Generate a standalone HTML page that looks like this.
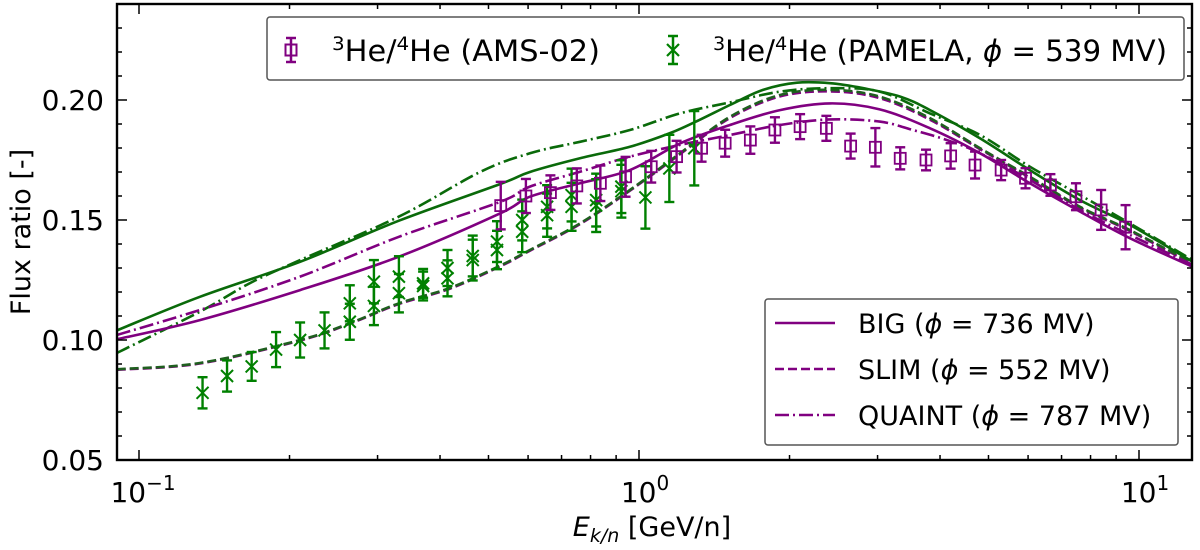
<!DOCTYPE html>
<html><head><meta charset="utf-8"><style>
html,body{margin:0;padding:0;background:#fff;}
svg{display:block;font-family:"DejaVu Sans","Liberation Sans",sans-serif;}
</style></head><body>
<svg id="chart" width="1200" height="550" viewBox="0 0 1200 550" xmlns="http://www.w3.org/2000/svg">
<rect x="0" y="0" width="1200" height="550" fill="#fff"/>
<defs><clipPath id="clip"><rect x="117" y="4" width="1075" height="456"/></clipPath></defs>
<g id="curves" clip-path="url(#clip)"></g>
<g id="points" clip-path="url(#clip)"></g>
<g id="axes"></g>
<text x="652" y="536" text-anchor="middle" font-size="27"><tspan font-style="italic">E</tspan><tspan font-style="italic" font-size="19" dy="6">k/n</tspan><tspan dy="-6"> [GeV/n]</tspan></text>
<text transform="translate(30,232) rotate(-90)" text-anchor="middle" font-size="27">Flux ratio [-]</text>
<g>
<rect x="267" y="17" width="917" height="63" fill="#fff" stroke="#555" stroke-width="1.5" rx="3"/>
<g>
<line x1="291" y1="38" x2="291" y2="62" stroke="#800080" stroke-width="2.5"/><line x1="286" y1="38" x2="296" y2="38" stroke="#800080" stroke-width="2.5"/><line x1="286" y1="62" x2="296" y2="62" stroke="#800080" stroke-width="2.5"/>
<rect x="285.5" y="44.5" width="11" height="11" fill="none" stroke="#800080" stroke-width="2"/>
<text x="332" y="61" font-size="29" textLength="268" lengthAdjust="spacingAndGlyphs"><tspan font-size="19" dy="-11">3</tspan><tspan dy="11">He/</tspan><tspan font-size="19" dy="-11">4</tspan><tspan dy="11">He  (AMS-02)</tspan></text></g>
<g>
<line x1="673" y1="36" x2="673" y2="64" stroke="#008000" stroke-width="2.5"/><line x1="668" y1="36" x2="678" y2="36" stroke="#008000" stroke-width="2.5"/><line x1="668" y1="64" x2="678" y2="64" stroke="#008000" stroke-width="2.5"/>
<path d="M667 44 L679 56 M679 44 L667 56" stroke="#008000" stroke-width="2.2"/>
<text x="713" y="61" font-size="29" textLength="454" lengthAdjust="spacingAndGlyphs"><tspan font-size="19" dy="-11">3</tspan><tspan dy="11">He/</tspan><tspan font-size="19" dy="-11">4</tspan><tspan dy="11">He  (PAMELA, </tspan><tspan font-style="italic">ϕ</tspan><tspan> = 539 MV)</tspan></text></g>
</g>
<g>
<rect x="765" y="299" width="413" height="146" fill="#fff" stroke="#555" stroke-width="1.5" rx="3"/>
<g><line x1="775" y1="323" x2="835" y2="323" stroke="#800080" stroke-width="2.5"/><text x="858" y="333" font-size="27">BIG (<tspan font-style="italic">ϕ</tspan> = 736 MV)</text></g>
<g><line x1="775" y1="369" x2="835" y2="369" stroke="#800080" stroke-width="2.5" stroke-dasharray="9,4"/><text x="858" y="379" font-size="27">SLIM (<tspan font-style="italic">ϕ</tspan> = 552 MV)</text></g>
<g><line x1="775" y1="415" x2="835" y2="415" stroke="#800080" stroke-width="2.5" stroke-dasharray="14,4,2,4"/><text x="858" y="425" font-size="27">QUAINT (<tspan font-style="italic">ϕ</tspan> = 787 MV)</text></g>
</g>
</svg>
<script>
// ---- data ----
const amsE = [0.529,0.594,0.665,0.751,0.837,0.940,1.058,1.189,1.334,1.487,1.67,1.87,2.10,2.37,2.65,2.97,3.33,3.75,4.2,4.7,5.3,5.93,6.65,7.48,8.4,9.4];
const amsV = [0.156,0.160,0.1614,0.1642,0.1653,0.168,0.1722,0.1764,0.1799,0.182,0.1833,0.1875,0.1889,0.1882,0.1808,0.1803,0.1757,0.175,0.1767,0.1729,0.1708,0.1674,0.1646,0.1597,0.1542,0.147];
const amsErr = [0.0099,0.0071,0.0072,0.0073,0.0074,0.0083,0.0066,0.0066,0.0056,0.0056,0.0057,0.0053,0.0052,0.0052,0.0052,0.008,0.0046,0.0043,0.0053,0.0056,0.0042,0.0042,0.0045,0.0056,0.0083,0.0092];
const pamE = [0.134,0.150,0.168,0.188,0.210,0.235,0.264,0.264,0.295,0.295,0.331,0.331,0.370,0.370,0.414,0.414,0.465,0.465,0.520,0.520,0.584,0.584,0.655,0.655,0.733,0.733,0.821,0.821,0.922,0.922,1.03,1.15,1.29];
const pamV = [0.078,0.085,0.089,0.096,0.100,0.104,0.1153,0.1076,0.1243,0.1142,0.1264,0.1195,0.1236,0.1225,0.130,0.1257,0.135,0.1333,0.141,0.1375,0.150,0.1451,0.1555,0.152,0.1604,0.1555,0.1583,0.156,0.1639,0.162,0.1594,0.1715,0.1799];
const pamErr = [0.0065,0.0065,0.006,0.0073,0.0073,0.0075,0.0075,0.0075,0.009,0.008,0.0085,0.008,0.006,0.006,0.0075,0.0075,0.0085,0.0085,0.0085,0.008,0.0085,0.0085,0.009,0.009,0.011,0.010,0.011,0.011,0.011,0.011,0.013,0.014,0.0155];
const gSolidE = [0.0903,0.1324,0.21,0.331,0.528,0.605,0.762,0.959,1.15,1.30,1.52,1.77,2.07,2.41,2.81,3.33,3.82,4.81,6.05,7.62,9.59,12.8];
const gSolidV = [0.104,0.118,0.1326,0.1497,0.165,0.1700,0.1757,0.1805,0.1861,0.191,0.1979,0.2042,0.2072,0.207,0.2049,0.2014,0.1958,0.184,0.1708,0.1583,0.148,0.1326];
const gDashdotE = [0.0903,0.1324,0.1667,0.21,0.331,0.481,0.605,0.762,0.959,1.208,1.52,1.914,2.41,3.03,3.82,4.81,6.05,7.62,9.59,12.8];
const gDashdotV = [0.0946,0.1118,0.1237,0.1333,0.1514,0.1700,0.1778,0.1826,0.1875,0.1944,0.199,0.2035,0.2049,0.2035,0.1944,0.1854,0.1722,0.1604,0.1486,0.1333];
const gDashE = [0.0903,0.1324,0.21,0.264,0.331,0.419,0.528,0.605,0.762,0.959,1.208,1.52,1.914,2.41,3.03,3.82,4.81,6.05,7.62,9.59,12.8];
const gDashV = [0.0878,0.0904,0.100,0.107,0.1153,0.1217,0.1310,0.1375,0.1486,0.1625,0.1778,0.193,0.2021,0.2042,0.2014,0.1924,0.1799,0.168,0.1555,0.1458,0.132];
const pSolidE = [0.0903,0.1324,0.21,0.331,0.528,0.605,0.762,0.959,1.208,1.52,1.914,2.41,3.03,3.82,4.81,6.05,7.62,9.59,12.8];
const pSolidV = [0.1003,0.1083,0.1208,0.1347,0.1528,0.1597,0.1653,0.1708,0.1819,0.1896,0.1958,0.1986,0.1961,0.1882,0.1778,0.1653,0.1535,0.1424,0.1305];
const pDashE = [0.0903,0.1324,0.21,0.264,0.331,0.419,0.528,0.605,0.762,0.959,1.208,1.52,1.914,2.41,3.03,3.82,4.81,6.05,7.62,9.59,12.8];
const pDashV = [0.0876,0.0902,0.0998,0.1068,0.115,0.1214,0.1307,0.1372,0.1483,0.1622,0.1774,0.1925,0.2015,0.2036,0.2008,0.1918,0.1795,0.1676,0.1551,0.1454,0.1316];
const pDashdotE = [0.0903,0.1324,0.21,0.331,0.528,0.605,0.762,0.959,1.208,1.52,1.914,2.41,3.03,3.53,4.13,4.81,6.05,7.62,9.59,12.8];
const pDashdotV = [0.1021,0.1125,0.1264,0.143,0.1576,0.1639,0.1701,0.1764,0.1813,0.1854,0.1896,0.1919,0.191,0.1875,0.1833,0.1778,0.1667,0.1542,0.1438,0.1313];
const yTicks = [0.05,0.10,0.15,0.20];
const yTickLabels = ["0.05","0.10","0.15","0.20"];
const xMajor = [-1,0,1];
const xMajorLabels = ["−1","0","1"];

// ---- scales ----
const L=117,R=1192,T=4,B=460;
function xs(e){return 639+500*Math.log10(e);}
function ys(v){return B-(v-0.05)*2400;}
const NS="http://www.w3.org/2000/svg";
function mk(tag,attrs,parent){const el=document.createElementNS(NS,tag);for(const k in attrs)el.setAttribute(k,attrs[k]);parent.appendChild(el);return el;}

function smoothPath(E,V){
  const p=E.map((e,i)=>[xs(e),ys(V[i])]);
  let d="M"+p[0][0].toFixed(1)+" "+p[0][1].toFixed(1);
  for(let i=0;i<p.length-1;i++){
    const p0=p[Math.max(0,i-1)],p1=p[i],p2=p[i+1],p3=p[Math.min(p.length-1,i+2)];
    const c1=[p1[0]+(p2[0]-p0[0])/6,p1[1]+(p2[1]-p0[1])/6];
    const c2=[p2[0]-(p3[0]-p1[0])/6,p2[1]-(p3[1]-p1[1])/6];
    d+=" C"+c1[0].toFixed(1)+" "+c1[1].toFixed(1)+" "+c2[0].toFixed(1)+" "+c2[1].toFixed(1)+" "+p2[0].toFixed(1)+" "+p2[1].toFixed(1);
  }
  return d;
}
const curves=document.getElementById('curves');
function drawCurve(E,V,color,dash,name){
  const el=mk('path',{d:smoothPath(E,V),fill:'none',stroke:color,'stroke-width':2.6,'stroke-dasharray':dash},curves);
  
  
}
drawCurve(pDashE,pDashV,'#800080','9,4','slim-ams-dashed');
drawCurve(gDashE,gDashV,'#1f5f1f','9,4','slim-pamela-dashed');
drawCurve(gDashdotE,gDashdotV,'#0a6a0a','14,4,2,4','quaint-pamela-dashdot');
drawCurve(pDashdotE,pDashdotV,'#800080','14,4,2,4','quaint-ams-dashdot');
drawCurve(gSolidE,gSolidV,'#0a6a0a','none','big-pamela-solid');
drawCurve(pSolidE,pSolidV,'#800080','none','big-ams-solid');

const pts=document.getElementById('points');
pamE.forEach((e,i)=>{
  const x=xs(e),y=ys(pamV[i]),y1=ys(pamV[i]+pamErr[i]),y2=ys(pamV[i]-pamErr[i]);
  const g=mk('g',{stroke:'#008000','stroke-width':2.4,fill:'none'},pts);
  
  
  mk('line',{x1:x,y1:y1,x2:x,y2:y2},g);
  mk('line',{x1:x-5,y1:y1,x2:x+5,y2:y1},g);
  mk('line',{x1:x-5,y1:y2,x2:x+5,y2:y2},g);
  mk('path',{d:`M${x-6} ${y-6} L${x+6} ${y+6} M${x+6} ${y-6} L${x-6} ${y+6}`,'stroke-width':2},g);
});
amsE.forEach((e,i)=>{
  const x=xs(e),y=ys(amsV[i]),y1=ys(amsV[i]+amsErr[i]),y2=ys(amsV[i]-amsErr[i]);
  const g=mk('g',{stroke:'#800080','stroke-width':2.4,fill:'none'},pts);
  
  
  mk('line',{x1:x,y1:y1,x2:x,y2:y2},g);
  mk('line',{x1:x-5,y1:y1,x2:x+5,y2:y1},g);
  mk('line',{x1:x-5,y1:y2,x2:x+5,y2:y2},g);
  mk('rect',{x:x-5.5,y:y-5.5,width:11,height:11,'stroke-width':1.8},g);
});

// ---- axes ----
const ax=document.getElementById('axes');
const fr=mk('rect',{x:L,y:T,width:R-L,height:B-T,fill:'none',stroke:'#000','stroke-width':2.4},ax);


for(let k=5;k<=24;k++){
  const v=k/100,y=ys(v),maj=(k%5===0),len=maj?10:5;
  mk('line',{x1:L,y1:y,x2:L+len,y2:y,stroke:'#000','stroke-width':1.5},ax);
  mk('line',{x1:R,y1:y,x2:R-len,y2:y,stroke:'#000','stroke-width':1.5},ax);
}
yTicks.forEach((v,i)=>{
  const t=mk('text',{x:104,y:ys(v)+10,'text-anchor':'end','font-size':28},ax);
  t.textContent=yTickLabels[i];
  
  
});
for(let d=-2;d<=1;d++){
  for(let m=1;m<=9;m++){
    const e=m*Math.pow(10,d),x=xs(e);
    if(x<L+1||x>R-1)continue;
    const len=m===1?10:5;
    mk('line',{x1:x,y1:B,x2:x,y2:B-len,stroke:'#000','stroke-width':1.5},ax);
    mk('line',{x1:x,y1:T,x2:x,y2:T+len,stroke:'#000','stroke-width':1.5},ax);
  }
}
xMajor.forEach((p,i)=>{
  const t=mk('text',{x:xs(Math.pow(10,p))+(p<0?4:6),y:502,'text-anchor':'middle','font-size':28},ax);
  
  
  const a=mk('tspan',{},t);a.textContent='10';
  const b=mk('tspan',{'font-size':20,dy:-12},t);b.textContent=xMajorLabels[i];
});
</script>
</body></html>
